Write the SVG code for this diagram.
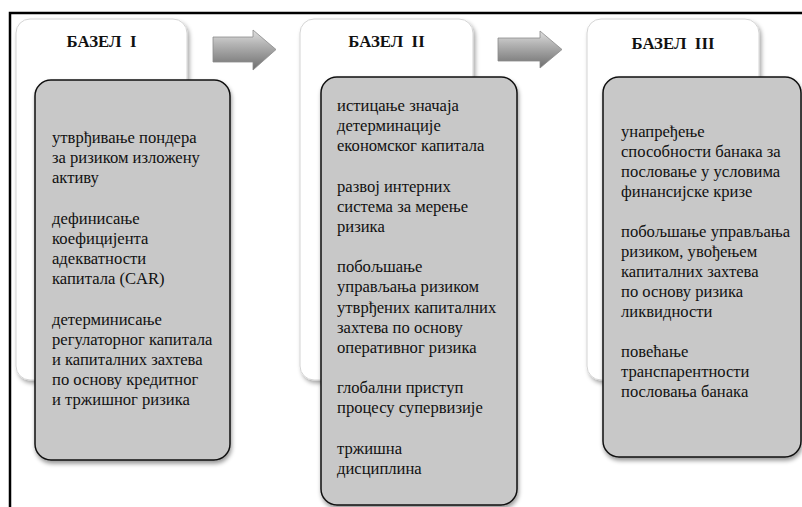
<svg xmlns="http://www.w3.org/2000/svg" width="802" height="507" viewBox="0 0 802 507">
<defs>
<style>
.t{font-family:"Liberation Serif","Times New Roman",serif;font-size:16.6px;fill:#111}
.h{font-family:"Liberation Serif","Times New Roman",serif;font-size:16.8px;font-weight:bold;fill:#111;text-anchor:middle;white-space:pre}
.back{fill:#fff;stroke:#d4d4d4;stroke-width:1;filter:url(#sh1)}
.front{fill:#c8c8c8;stroke:#111;stroke-width:1.5;filter:url(#sh2)}
.arrow{fill:url(#ag);stroke:#8a8a8a;stroke-width:0.8}
</style>
<filter id="sh1" x="-10%" y="-10%" width="125%" height="125%">
<feDropShadow dx="2" dy="3" stdDeviation="2" flood-color="#000" flood-opacity="0.35"/>
</filter>
<filter id="sh2" x="-10%" y="-10%" width="125%" height="125%">
<feDropShadow dx="1" dy="3" stdDeviation="2" flood-color="#000" flood-opacity="0.4"/>
</filter>
<linearGradient id="ag" x1="0" y1="0" x2="0" y2="1">
<stop offset="0" stop-color="#e0e0e0"/>
<stop offset="0.35" stop-color="#b4b4b4"/>
<stop offset="1" stop-color="#6e6e6e"/>
</linearGradient>
</defs>
<rect width="802" height="507" fill="#fff"/>
<path d="M10 507 V13 H802" fill="none" stroke="#000" stroke-width="2.5"/>

<g id="connectors">
<polygon class="arrow" points="213,37 253,37 253,30 276,49.5 253,70 253,62 213,62"/>
<polygon class="arrow" points="498,38 540,38 540,31 562,49.5 540,68 540,61 498,61"/>
</g>

<g id="basel1">
<rect class="back" x="16" y="19" width="171" height="361" rx="14"/>
<text class="h" x="101.5" y="47">БАЗЕЛ  I</text>
<rect class="front" x="35" y="80" width="195" height="380" rx="16"/>
<text class="t">
<tspan x="52" y="143">утврђивање пондера</tspan>
<tspan x="52" y="163">за ризиком изложену</tspan>
<tspan x="52" y="183">активу</tspan>
<tspan x="52" y="224">дефинисање</tspan>
<tspan x="52" y="244">коефицијента</tspan>
<tspan x="52" y="264">адекватности</tspan>
<tspan x="52" y="284">капитала (CAR)</tspan>
<tspan x="52" y="325">детерминисање</tspan>
<tspan x="52" y="345">регулаторног капитала</tspan>
<tspan x="52" y="365">и капиталних захтева</tspan>
<tspan x="52" y="385">по основу кредитног</tspan>
<tspan x="52" y="405">и тржишног ризика</tspan>
</text>
</g>

<g id="basel2">
<rect class="back" x="300" y="19" width="173" height="361" rx="14"/>
<text class="h" x="386.5" y="47">БАЗЕЛ  II</text>
<rect class="front" x="321" y="77" width="196" height="428" rx="16"/>
<text class="t">
<tspan x="337" y="111">истицање значаја</tspan>
<tspan x="337" y="131">детерминације</tspan>
<tspan x="337" y="151">економског капитала</tspan>
<tspan x="337" y="192">развој интерних</tspan>
<tspan x="337" y="212">система за мерење</tspan>
<tspan x="337" y="232">ризика</tspan>
<tspan x="337" y="272">побољшање</tspan>
<tspan x="337" y="292">управљања ризиком</tspan>
<tspan x="337" y="313">утврђених капиталних</tspan>
<tspan x="337" y="333">захтева по основу</tspan>
<tspan x="337" y="353">оперативног ризика</tspan>
<tspan x="337" y="393">глобални приступ</tspan>
<tspan x="337" y="413">процесу супервизије</tspan>
<tspan x="337" y="454">тржишна</tspan>
<tspan x="337" y="474">дисциплина</tspan>
</text>
</g>

<g id="basel3">
<rect class="back" x="587" y="19" width="172" height="361" rx="14"/>
<text class="h" x="673" y="48.5">БАЗЕЛ  III</text>
<rect class="front" x="603" y="77" width="198" height="380" rx="16"/>
<text class="t">
<tspan x="621" y="137">унапређење</tspan>
<tspan x="621" y="157">способности банака за</tspan>
<tspan x="621" y="177">пословање у условима</tspan>
<tspan x="621" y="197">финансијске кризе</tspan>
<tspan x="621" y="237">побољшање управљања</tspan>
<tspan x="621" y="257">ризиком, увођењем</tspan>
<tspan x="621" y="277">капиталних захтева</tspan>
<tspan x="621" y="297">по основу ризика</tspan>
<tspan x="621" y="317">ликвидности</tspan>
<tspan x="621" y="357">повећање</tspan>
<tspan x="621" y="377">транспарентности</tspan>
<tspan x="621" y="397">пословања банака</tspan>
</text>
</g>
</svg>
